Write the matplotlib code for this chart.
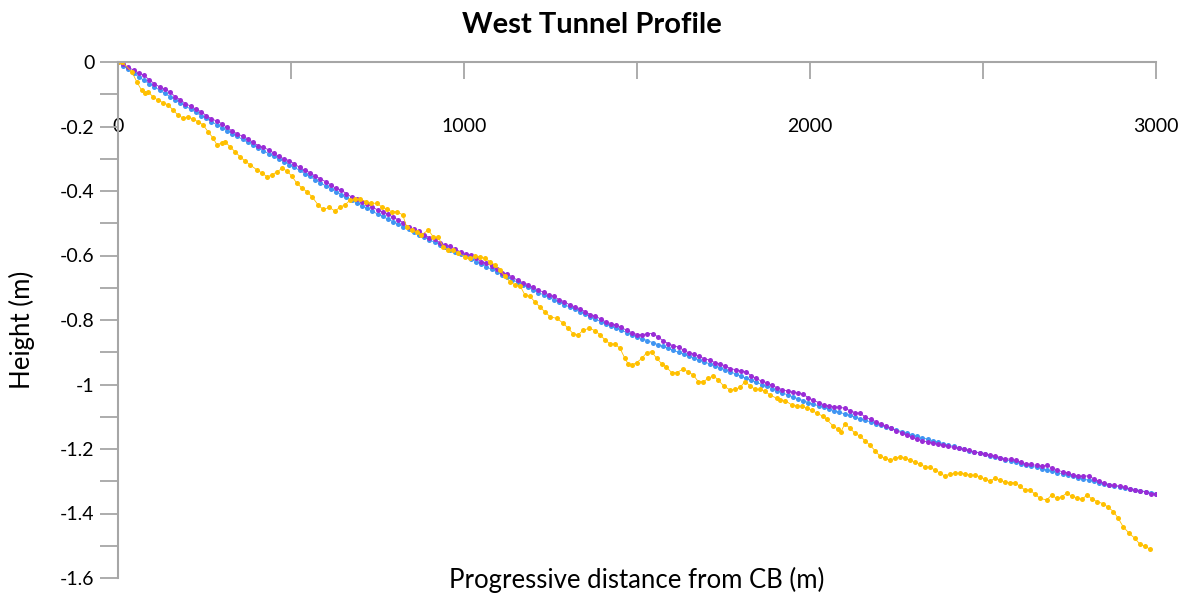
import numpy as np
import matplotlib
matplotlib.use("Agg")
from matplotlib import pyplot as plt
from matplotlib.ticker import MultipleLocator

plt.rcParams['font.family'] = ['Lato', 'DejaVu Sans']

# distance grid (m) for the two smooth profiles
dist = np.arange(0, 3001, 15)

blue = [0, -0.011, -0.023, -0.035, -0.046, -0.057, -0.067, -0.077, -0.087, -0.097,
        -0.107, -0.117, -0.127, -0.137, -0.146, -0.156, -0.166, -0.175, -0.185, -0.194,
        -0.204, -0.213, -0.222, -0.231, -0.240, -0.249, -0.258, -0.267, -0.275, -0.284,
        -0.292, -0.301, -0.309, -0.318, -0.327, -0.336, -0.346, -0.355, -0.365, -0.374,
        -0.384, -0.393, -0.402, -0.411, -0.420, -0.429, -0.437, -0.446, -0.454, -0.463,
        -0.471, -0.479, -0.487, -0.495, -0.503, -0.511, -0.519, -0.527, -0.535, -0.543,
        -0.551, -0.559, -0.567, -0.575, -0.582, -0.589, -0.596, -0.603, -0.611, -0.619,
        -0.627, -0.635, -0.643, -0.651, -0.659, -0.667, -0.675, -0.683, -0.691, -0.699,
        -0.707, -0.715, -0.722, -0.730, -0.737, -0.745, -0.752, -0.760, -0.767, -0.775,
        -0.782, -0.790, -0.797, -0.805, -0.812, -0.819, -0.826, -0.832, -0.839, -0.845,
        -0.852, -0.858, -0.864, -0.870, -0.876, -0.882, -0.888, -0.894, -0.900, -0.906,
        -0.912, -0.918, -0.924, -0.930, -0.936, -0.942, -0.948, -0.954, -0.961, -0.967,
        -0.974, -0.980, -0.987, -0.993, -1.000, -1.006, -1.013, -1.019, -1.026, -1.032,
        -1.038, -1.044, -1.050, -1.056, -1.061, -1.066, -1.071, -1.076, -1.081, -1.086,
        -1.091, -1.096, -1.101, -1.106, -1.111, -1.116, -1.121, -1.126, -1.131, -1.136,
        -1.141, -1.146, -1.151, -1.156, -1.161, -1.165, -1.170, -1.174, -1.179, -1.183,
        -1.188, -1.192, -1.196, -1.201, -1.205, -1.209, -1.213, -1.217, -1.221, -1.225,
        -1.229, -1.233, -1.237, -1.241, -1.245, -1.249, -1.253, -1.257, -1.261, -1.265,
        -1.269, -1.273, -1.277, -1.281, -1.285, -1.289, -1.293, -1.297, -1.300, -1.304,
        -1.307, -1.311, -1.314, -1.317, -1.320, -1.323, -1.326, -1.329, -1.332, -1.335,
        -1.338]

purple = [0, -0.007, -0.017, -0.025, -0.034, -0.041, -0.055, -0.067, -0.077, -0.084,
          -0.093, -0.107, -0.117, -0.129, -0.137, -0.146, -0.154, -0.166, -0.176, -0.183,
          -0.191, -0.203, -0.214, -0.223, -0.230, -0.238, -0.249, -0.259, -0.265, -0.272,
          -0.282, -0.293, -0.300, -0.306, -0.316, -0.327, -0.336, -0.343, -0.354, -0.362,
          -0.371, -0.381, -0.392, -0.397, -0.408, -0.419, -0.425, -0.435, -0.441, -0.449,
          -0.459, -0.465, -0.471, -0.482, -0.489, -0.499, -0.513, -0.519, -0.525, -0.535,
          -0.545, -0.550, -0.560, -0.567, -0.572, -0.580, -0.589, -0.594, -0.599, -0.609,
          -0.619, -0.623, -0.633, -0.643, -0.653, -0.657, -0.667, -0.677, -0.684, -0.690,
          -0.699, -0.708, -0.713, -0.722, -0.727, -0.737, -0.743, -0.753, -0.759, -0.765,
          -0.774, -0.783, -0.788, -0.797, -0.806, -0.811, -0.816, -0.823, -0.832, -0.839,
          -0.845, -0.846, -0.842, -0.842, -0.852, -0.864, -0.873, -0.880, -0.884, -0.894,
          -0.902, -0.906, -0.913, -0.920, -0.924, -0.932, -0.937, -0.942, -0.951, -0.954,
          -0.958, -0.960, -0.973, -0.981, -0.990, -0.994, -1.003, -1.010, -1.016, -1.020,
          -1.024, -1.026, -1.030, -1.041, -1.049, -1.056, -1.063, -1.066, -1.069, -1.071,
          -1.073, -1.081, -1.087, -1.089, -1.101, -1.108, -1.115, -1.122, -1.129, -1.136,
          -1.143, -1.150, -1.157, -1.164, -1.170, -1.175, -1.178, -1.180, -1.186, -1.188,
          -1.192, -1.195, -1.198, -1.201, -1.204, -1.209, -1.211, -1.214, -1.219, -1.221,
          -1.227, -1.230, -1.232, -1.235, -1.241, -1.246, -1.248, -1.251, -1.253, -1.251,
          -1.259, -1.265, -1.271, -1.274, -1.281, -1.283, -1.285, -1.283, -1.292, -1.300,
          -1.305, -1.311, -1.313, -1.315, -1.319, -1.324, -1.328, -1.331, -1.333, -1.339,
          -1.338]

# the rougher profile, read point by point
orange_x = [0, 11, 40, 54, 68, 78, 87, 101, 115, 130, 145, 159, 173, 188, 202, 217, 231, 246,
            260, 275, 286, 301, 309, 324, 338, 353, 367, 382, 402, 416, 431, 445, 460, 474,
            488, 503, 517, 532, 546, 561, 579, 593, 611, 627, 642, 656, 671, 685, 699, 717,
            730, 748, 762, 777, 791, 805, 823, 834, 849, 863, 877, 897, 911, 926, 940, 955,
            969, 984, 1003, 1017, 1032, 1046, 1061, 1075, 1090, 1104, 1118, 1133, 1147, 1162,
            1176, 1191, 1205, 1220, 1234, 1249, 1268, 1287, 1301, 1316, 1330, 1345, 1362,
            1379, 1393, 1408, 1422, 1436, 1451, 1465, 1475, 1485, 1499, 1514, 1528, 1542,
            1557, 1571, 1584, 1600, 1615, 1632, 1648, 1663, 1677, 1692, 1706, 1721, 1735,
            1750, 1769, 1783, 1798, 1812, 1827, 1841, 1856, 1870, 1884, 1904, 1913, 1928,
            1947, 1962, 1976, 1990, 2005, 2019, 2037, 2048, 2067, 2082, 2089, 2101, 2116,
            2130, 2144, 2159, 2173, 2188, 2202, 2217, 2231, 2246, 2260, 2275, 2289, 2303,
            2318, 2332, 2347, 2361, 2376, 2390, 2405, 2419, 2434, 2448, 2462, 2477, 2491,
            2506, 2520, 2535, 2549, 2564, 2578, 2592, 2607, 2621, 2636, 2650, 2665, 2684,
            2698, 2713, 2727, 2742, 2756, 2771, 2785, 2801, 2816, 2830, 2848, 2862, 2877,
            2891, 2905, 2923, 2939, 2954, 2968, 2983]
orange_y = [0, 0, -0.030, -0.061, -0.087, -0.097, -0.092, -0.108, -0.118, -0.126, -0.133,
            -0.149, -0.164, -0.174, -0.170, -0.177, -0.185, -0.195, -0.216, -0.236, -0.257,
            -0.250, -0.247, -0.263, -0.278, -0.294, -0.307, -0.319, -0.335, -0.344, -0.356,
            -0.350, -0.340, -0.330, -0.337, -0.355, -0.376, -0.391, -0.402, -0.418, -0.444,
            -0.457, -0.451, -0.462, -0.450, -0.443, -0.428, -0.426, -0.425, -0.433, -0.438,
            -0.438, -0.449, -0.457, -0.464, -0.464, -0.474, -0.511, -0.521, -0.526, -0.536,
            -0.521, -0.542, -0.544, -0.573, -0.583, -0.583, -0.593, -0.604, -0.609, -0.602,
            -0.604, -0.609, -0.619, -0.630, -0.645, -0.665, -0.681, -0.691, -0.694, -0.722,
            -0.727, -0.744, -0.760, -0.775, -0.790, -0.795, -0.810, -0.826, -0.843, -0.846,
            -0.831, -0.826, -0.833, -0.846, -0.862, -0.874, -0.874, -0.888, -0.919, -0.937,
            -0.940, -0.932, -0.919, -0.901, -0.898, -0.919, -0.935, -0.945, -0.963, -0.963,
            -0.953, -0.960, -0.971, -0.991, -0.991, -0.981, -0.973, -0.986, -1.004, -1.017,
            -1.015, -1.009, -0.991, -1.004, -1.015, -1.015, -1.021, -1.032, -1.043, -1.047,
            -1.050, -1.063, -1.066, -1.068, -1.073, -1.079, -1.089, -1.098, -1.108, -1.129,
            -1.139, -1.147, -1.122, -1.136, -1.151, -1.160, -1.174, -1.188, -1.205, -1.222,
            -1.229, -1.234, -1.229, -1.224, -1.229, -1.234, -1.240, -1.247, -1.255, -1.257,
            -1.265, -1.275, -1.284, -1.277, -1.275, -1.275, -1.277, -1.281, -1.281, -1.286,
            -1.294, -1.299, -1.291, -1.296, -1.303, -1.304, -1.304, -1.316, -1.327, -1.327,
            -1.340, -1.353, -1.358, -1.343, -1.353, -1.348, -1.337, -1.346, -1.351, -1.356,
            -1.343, -1.356, -1.363, -1.370, -1.381, -1.394, -1.415, -1.441, -1.462, -1.477,
            -1.496, -1.501, -1.511]

x_ticks = [0, 1000, 2000, 3000]
y_ticks = [0, -0.2, -0.4, -0.6, -0.8, -1, -1.2, -1.4, -1.6]

fig = plt.figure(figsize=(11.89, 6.0), dpi=100)
ax = fig.add_axes([118 / 1189, 1 - 578 / 600, (1156 - 118) / 1189, (578 - 62) / 600])

style = dict(marker='o', markersize=3.6, linewidth=0.6, markeredgewidth=0)
ax.plot(dist, blue, color='#3F95F2', **style)
ax.plot(dist, purple, color='#9A2BD6', **style)
ax.plot(orange_x, orange_y, color='#FFC000', **style)

ax.set_xlim(0, 3000)
ax.set_ylim(-1.6, 0)

grey = '#A6A6A6'
for s in ['top', 'right']:
    ax.spines[s].set_visible(False)
ax.spines['bottom'].set_position(('data', 0))
for s in ['bottom', 'left']:
    ax.spines[s].set_color(grey)
    ax.spines[s].set_linewidth(1.5)

ax.set_xticks(x_ticks)
ax.set_xticklabels([str(v) for v in x_ticks])
ax.xaxis.set_minor_locator(MultipleLocator(500))
ax.tick_params(axis='x', which='both', direction='out', length=12.5, width=1.3,
               color=grey, pad=28, labelsize=14)
ax.set_yticks(y_ticks)
ax.set_yticklabels(['0', '-0.2', '-0.4', '-0.6', '-0.8', '-1', '-1.2', '-1.4', '-1.6'])
ax.yaxis.set_minor_locator(MultipleLocator(0.1))
ax.tick_params(axis='y', which='both', direction='out', length=13, width=1.3,
               color=grey, pad=4, labelsize=14)

fig.text(592 / 1189, 1 - 25 / 600, 'West Tunnel Profile', ha='center', va='center',
         fontsize=21, fontweight='bold')
fig.text(22 / 1189, 1 - 330 / 600, 'Height (m)', ha='center', va='center',
         rotation=90, fontsize=18.5)
fig.text(637 / 1189, 1 - 580 / 600, 'Progressive distance from CB (m)', ha='center',
         va='center', fontsize=18.5)

fig.savefig('out.png', dpi=100)
